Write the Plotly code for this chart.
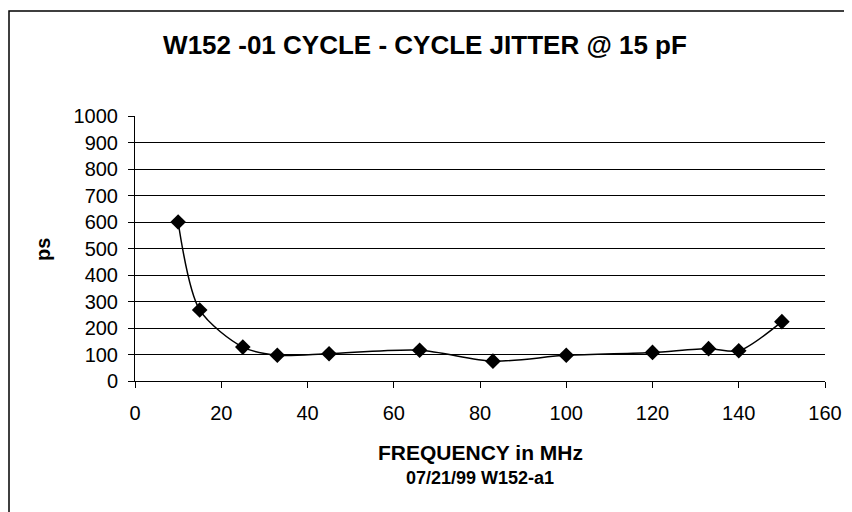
import plotly.graph_objects as go

freq_mhz = [10, 15, 25, 33, 45, 66, 83, 100, 120, 133, 140, 150]
jitter_ps = [600, 268, 128, 97, 103, 116, 75, 97, 108, 122, 114, 224]
x_ticks = [0, 20, 40, 60, 80, 100, 120, 140, 160]
y_ticks = [0, 100, 200, 300, 400, 500, 600, 700, 800, 900, 1000]

FONT = "Arial, Liberation Sans, sans-serif"
OFF = 8  # page body margin offset

# plot area in page pixels
PL, PR, PT, PB = 135, 825, 116, 381
PW, PH = PR - PL, PB - PT

def px(xp):
    return (xp - PL) / PW

def py(yp):
    return (PB - yp) / PH

fig = go.Figure()
fig.add_trace(go.Scatter(
    x=freq_mhz, y=jitter_ps, mode="lines+markers",
    line=dict(color="black", width=1.5, shape="spline", smoothing=0.8),
    marker=dict(symbol="diamond", size=12, color="black"),
    showlegend=False,
))

fig.update_layout(
    width=852, height=512,
    margin=dict(l=PL - OFF, r=852 - PR + OFF, t=PT - OFF, b=512 - PB + OFF, pad=0),
    paper_bgcolor="white", plot_bgcolor="white",
    font=dict(family=FONT, color="black"),
    title=dict(text="<b>W152 -01 CYCLE - CYCLE JITTER @ 15 pF</b>",
               x=px(425), xref="paper", xanchor="center",
               y=1 - (45 - OFF) / 512, yanchor="middle",
               font=dict(size=26, family=FONT, color="black")),
    xaxis=dict(range=[0, 160], tickvals=x_ticks, showgrid=False, zeroline=False,
               showline=True, linecolor="black", linewidth=1,
               ticks="outside", ticklen=6, tickcolor="black",
               tickfont=dict(size=20), ticklabelstandoff=8, mirror=False),
    yaxis=dict(range=[0, 1000], tickvals=y_ticks, showgrid=True, gridcolor="black",
               gridwidth=1, zeroline=False, showline=True, linecolor="black",
               linewidth=1, ticks="outside", ticklen=6, tickcolor="black",
               tickfont=dict(size=20), ticklabelstandoff=6),
    annotations=[
        dict(text="<b>FREQUENCY in MHz</b>", xref="paper", yref="paper",
             x=0.5, y=py(452), xanchor="center", yanchor="middle",
             showarrow=False, font=dict(size=21)),
        dict(text="<b>07/21/99 W152-a1</b>", xref="paper", yref="paper",
             x=0.5, y=py(478), xanchor="center", yanchor="middle",
             showarrow=False, font=dict(size=18)),
        dict(text="<b>ps</b>", xref="paper", yref="paper",
             x=px(43), y=py(250), xanchor="center", yanchor="middle",
             textangle=-90, showarrow=False, font=dict(size=20)),
    ],
    shapes=[
        dict(type="rect", xref="paper", yref="paper",
             x0=px(9), x1=px(870), y0=py(530), y1=py(11),
             line=dict(color="black", width=1.5), layer="below"),
    ],
)

fig.write_html("out.html")
